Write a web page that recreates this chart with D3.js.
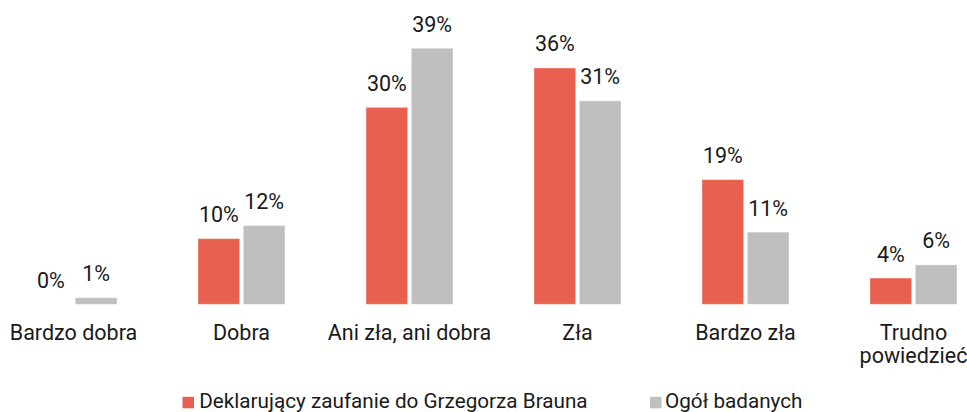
<!DOCTYPE html>
<html>
<head>
<meta charset="utf-8">
<script src="https://cdn.jsdelivr.net/npm/d3@7"></script>
<style>
  html, body { margin: 0; padding: 0; background: #fff; }
  svg { display: block; }
  text { font-family: Roboto, "Noto Sans", sans-serif; fill: #1a1a1a; }
</style>
</head>
<body>
<svg id="chart" width="967" height="412"></svg>
<script>
const categories = [["Bardzo dobra"], ["Dobra"], ["Ani zła, ani dobra"], ["Zła"], ["Bardzo zła"], ["Trudno", "powiedzieć"]];
const seriesNames = ["Deklarujący zaufanie do Grzegorza Brauna", "Ogół badanych"];
const brauna = [0, 10, 30, 36, 19, 4];
const ogol = [1, 12, 39, 31, 11, 6];
const colors = ["#e8604f", "#bfbfbf"];

const svg = d3.select("#chart");
const catKeys = categories.map(c => c.join(" "));
const data = catKeys.map((k, i) => ({ key: k, lines: categories[i], values: [brauna[i], ogol[i]] }));

const x0 = d3.scaleBand().domain(catKeys).range([-10.5, 997.5]).padding(0);
const x1 = d3.scaleBand().domain([0, 1]).range([40.5, 127.5]).paddingInner(0.08);
const y = d3.scaleLinear().domain([0, 39]).range([304.3, 48.3]);

const g = svg.append("g");
const groups = g.selectAll("g.grp").data(data).join("g")
  .attr("class", "grp")
  .attr("transform", d => `translate(${x0(d.key)},0)`);

groups.selectAll("rect").data(d => d.values.map((v, j) => ({ v, j }))).join("rect")
  .attr("x", d => x1(d.j))
  .attr("width", x1.bandwidth())
  .attr("y", d => y(d.v))
  .attr("height", d => y(0) - y(d.v))
  .attr("fill", d => colors[d.j])
  .attr("stroke", "#ffffff")
  .attr("stroke-opacity", 0.35)
  .attr("stroke-width", 1);

groups.selectAll("text.val").data(d => d.values.map((v, j) => ({ v, j }))).join("text")
  .attr("class", "val")
  .attr("x", d => x1(d.j) + x1.bandwidth() / 2)
  .attr("y", d => y(d.v) - 16.5)
  .attr("text-anchor", "middle")
  .attr("font-size", 21.5)
  .text(d => d.v + "%");

// category labels
groups.append("text")
  .attr("class", "cat")
  .attr("x", x0.bandwidth() / 2)
  .attr("y", 339.5)
  .attr("text-anchor", "middle")
  .attr("font-size", 21.5)
  .selectAll("tspan").data(d => d.lines).join("tspan")
  .attr("x", x0.bandwidth() / 2)
  .attr("dy", (d, i) => i === 0 ? 0 : 23)
  .text(d => d);

// legend
const legendX = [182.5, 650];
const leg = svg.append("g").selectAll("g").data(seriesNames).join("g")
  .attr("transform", (d, i) => `translate(${legendX[i]},0)`);
leg.append("rect")
  .attr("x", 0).attr("y", 396.8)
  .attr("width", 11.5).attr("height", 11.5)
  .attr("fill", (d, i) => colors[i]);
leg.append("text")
  .attr("x", (d, i) => i === 0 ? 16.8 : 15)
  .attr("y", 407.6)
  .attr("font-size", 20.7)
  .text(d => d);
</script>
</body>
</html>
